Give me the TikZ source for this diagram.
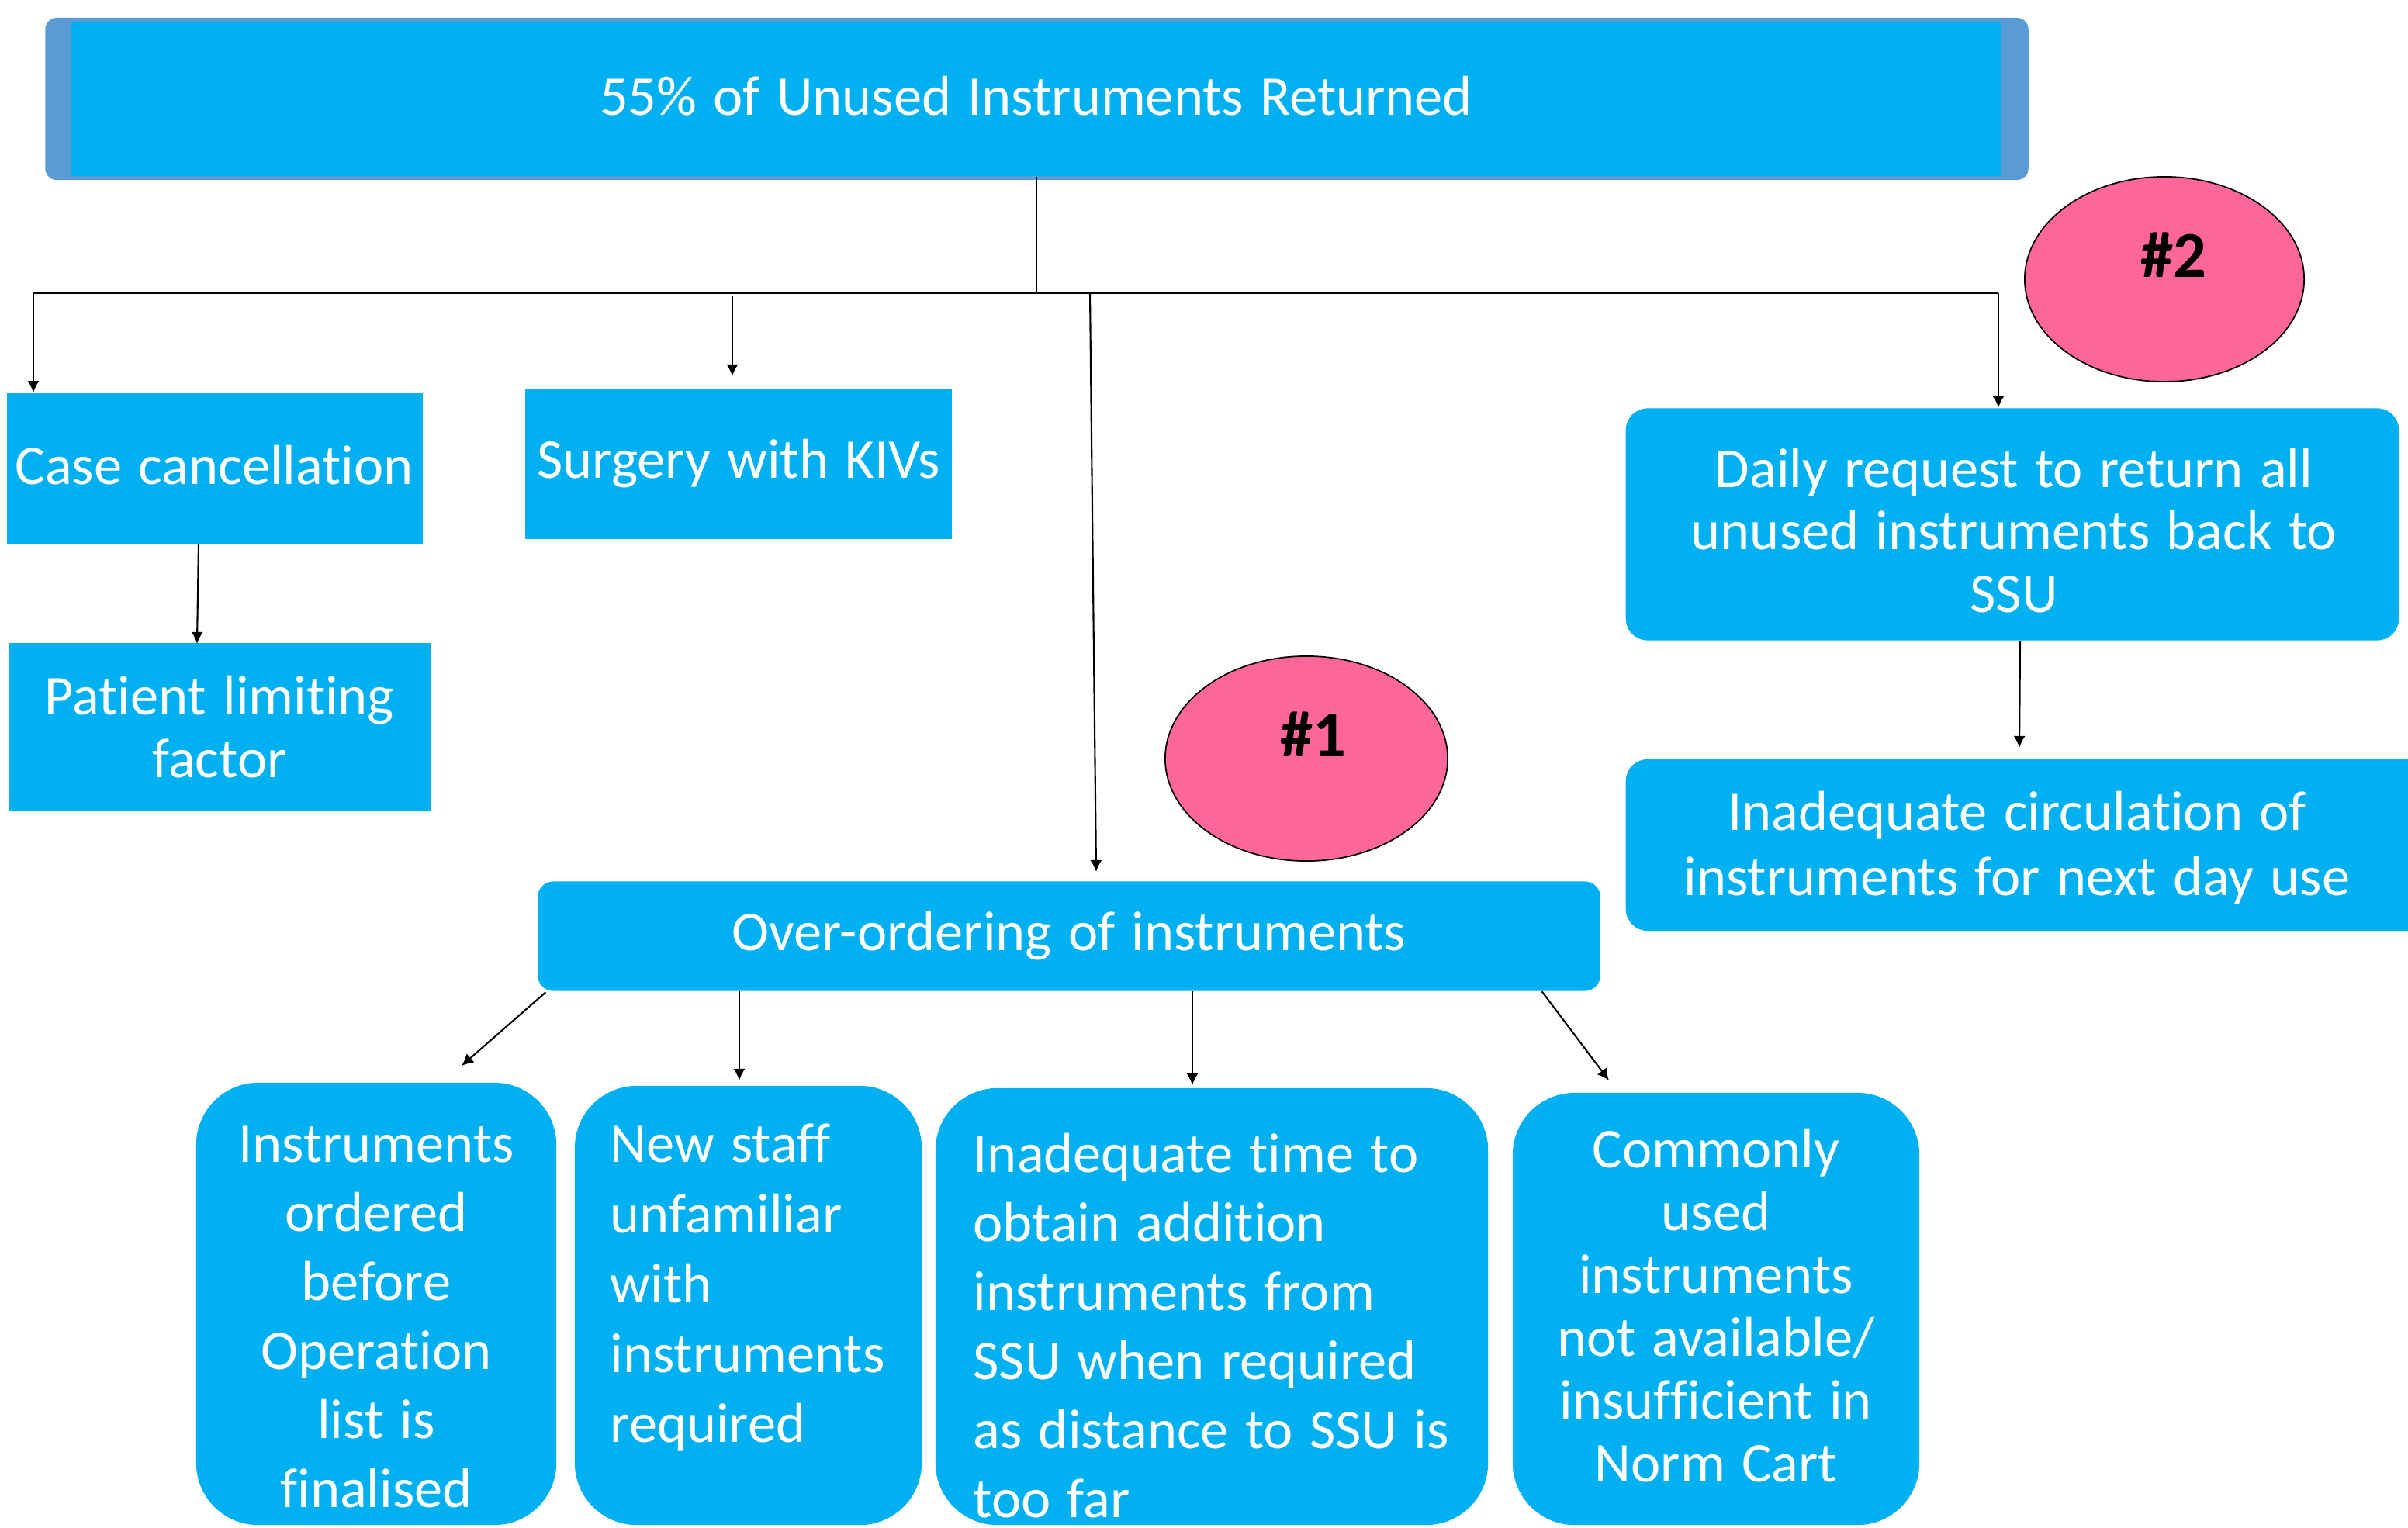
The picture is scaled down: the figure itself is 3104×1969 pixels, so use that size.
\documentclass[tikz,border=0pt]{standalone}
\usepackage{fontspec}
\setmainfont{Carlito}[Ligatures=NoCommon,WordSpace=1.3]
\usetikzlibrary{arrows.meta,shapes.geometric,calc}
\definecolor{cblue}{HTML}{00B0F0}
\definecolor{cframe}{HTML}{5B9BD5}
\definecolor{cpink}{HTML}{FF6699}
\begin{document}
\begin{tikzpicture}[x=0.01cm,y=-0.01cm,
  box/.style={fill=cblue, draw=none, inner sep=0pt, text=white, align=center,
    font=\fontsize{20.6}{23}\selectfont},
  bigbox/.style={fill=cblue, draw=none, inner sep=0pt, rounded corners=0.8cm},
  txt/.style={text=white, inner sep=0pt, font=\fontsize{20.6}{25.3}\selectfont},
  txtb/.style={text=white, inner sep=0pt, font=\fontsize{20.6}{23}\selectfont},
  arr/.style={draw=black, line width=0.6pt, -{Latex[length=4.3pt,width=4.3pt]}},
  ln/.style={draw=black, line width=0.6pt},
  tag/.style={ellipse, fill=cpink, draw=black, line width=0.5pt, inner sep=0pt},
  tagtxt/.style={text=black, inner sep=0pt, font=\fontsize{24}{28}\selectfont\bfseries}
]
\clip (0,0) rectangle (3104,1969);
\fill[white] (0,0) rectangle (3104,1969);

% top bar
\node[fill=cframe, rounded corners=0.15cm, inner sep=0pt, minimum width=25.55cm, minimum height=2.09cm] (topframe) at (1336.5,127.5) {};
\node[box, minimum width=24.85cm, minimum height=1.98cm] (top) at (1335.5,128) {};
\node[txtb] (topt) at (1335.5,124) {55\% of Unused Instruments Returned};

% first level boxes
\node[box, minimum width=5.36cm, minimum height=1.94cm] (case) at (277,604) {};
\node[txtb] (caset) at (276,600) {Case cancellation};
\node[box, minimum width=5.50cm, minimum height=1.94cm] (surg) at (952,598) {Surgery with KIVs};
\node[box, minimum width=5.44cm, minimum height=2.15cm] (pat) at (283,937) {Patient limiting\\factor};
\node[box, rounded corners=0.2cm, minimum width=13.69cm, minimum height=1.41cm] (over) at (1378,1207) {Over-ordering of instruments};
\node[box, rounded corners=0.28cm, minimum width=9.96cm, minimum height=2.99cm] (daily) at (2594,676) {};
\node[txtb, align=center] (dailyt) at (2596,684) {Daily request to return all\\unused instruments back to\\SSU};
\node[box, rounded corners=0.28cm, minimum width=10.6cm, minimum height=2.21cm] (circ) at (2626,1089.5) {};
\node[txt, align=center, font=\fontsize{20.6}{23.8}\selectfont] (circt) at (2600,1093) {Inadequate circulation of\\instruments for next day use};

% tags
\node[tag, minimum width=3.6cm, minimum height=2.64cm] (tag2) at (2790,360) {};
\node[tagtxt] (tag2t) at (2802,329) {\#2};
\node[tag, minimum width=3.64cm, minimum height=2.64cm] (tag1) at (1684,978) {};
\node[tagtxt] (tag1t) at (1693,947) {\#1};

% bottom boxes
\node[bigbox, minimum width=4.64cm, minimum height=5.70cm] (b1) at (485,1681) {};
\node[txt, align=center] (b1t) at (485,1698) {Instruments\\ordered\\before\\Operation\\list is\\finalised};
\node[bigbox, minimum width=4.47cm, minimum height=5.66cm] (b2) at (964.5,1683) {};
\node[txt, align=left, anchor=west, font=\fontsize{20.6}{25.6}\selectfont] (b2t) at (786,1660) {New staff\\unfamiliar\\with\\instruments\\required};
\node[bigbox, minimum width=7.12cm, minimum height=5.63cm] (b3) at (1562,1684.5) {};
\node[txt, align=left, anchor=west] (b3t) at (1254,1709) {Inadequate time to\\obtain addition\\instruments from\\SSU when required\\as distance to SSU is\\too far};
\node[bigbox, minimum width=5.24cm, minimum height=5.57cm] (b4) at (2212,1687.5) {};
\node[txtb, align=center] (b4t) at (2212,1683) {Commonly\\used\\instruments\\not available/\\insufficient in\\Norm Cart};

% connector coordinates
\coordinate (busJ) at (1336,378);
\coordinate (busL) at (43,378);
\coordinate (busR) at (2576,378);
\coordinate (surgS) at (944,382);
\coordinate (surgE) at (944,485);
\coordinate (overS) at (1405,378);
\coordinate (overE) at (1413,1124);
\coordinate (circE) at (2603,964);
\coordinate (patE) at (254,830);
\coordinate (b1E) at (595,1374);
\coordinate (b2E) at (953,1393);
\coordinate (b3E) at (1537,1399);
\coordinate (b4E) at (2074,1393);

% connectors
\draw[ln] (top.south -| busJ) -- (busJ);
\draw[ln] (busL) -- (busR);
\draw[arr] (busL) -- (busL |- case.north);
\draw[arr] (surgS) -- (surgE);
\draw[arr] (overS) -- (overE);
\draw[arr] (busR) -- (busR |- daily.north);
\draw[arr] ([xshift=0.10cm]daily.south) -- (circE);
\draw[arr] ([xshift=-0.21cm]case.south) -- (patE);
\draw[arr] ([xshift=0.11cm,yshift=-0.01cm]over.south west) -- (b1E);
\draw[arr] (over.south -| b2E) -- (b2E);
\draw[arr] (over.south -| b3E) -- (b3E);
\draw[arr] ([xshift=-0.76cm]over.south east) -- (b4E);
\end{tikzpicture}
\end{document}
